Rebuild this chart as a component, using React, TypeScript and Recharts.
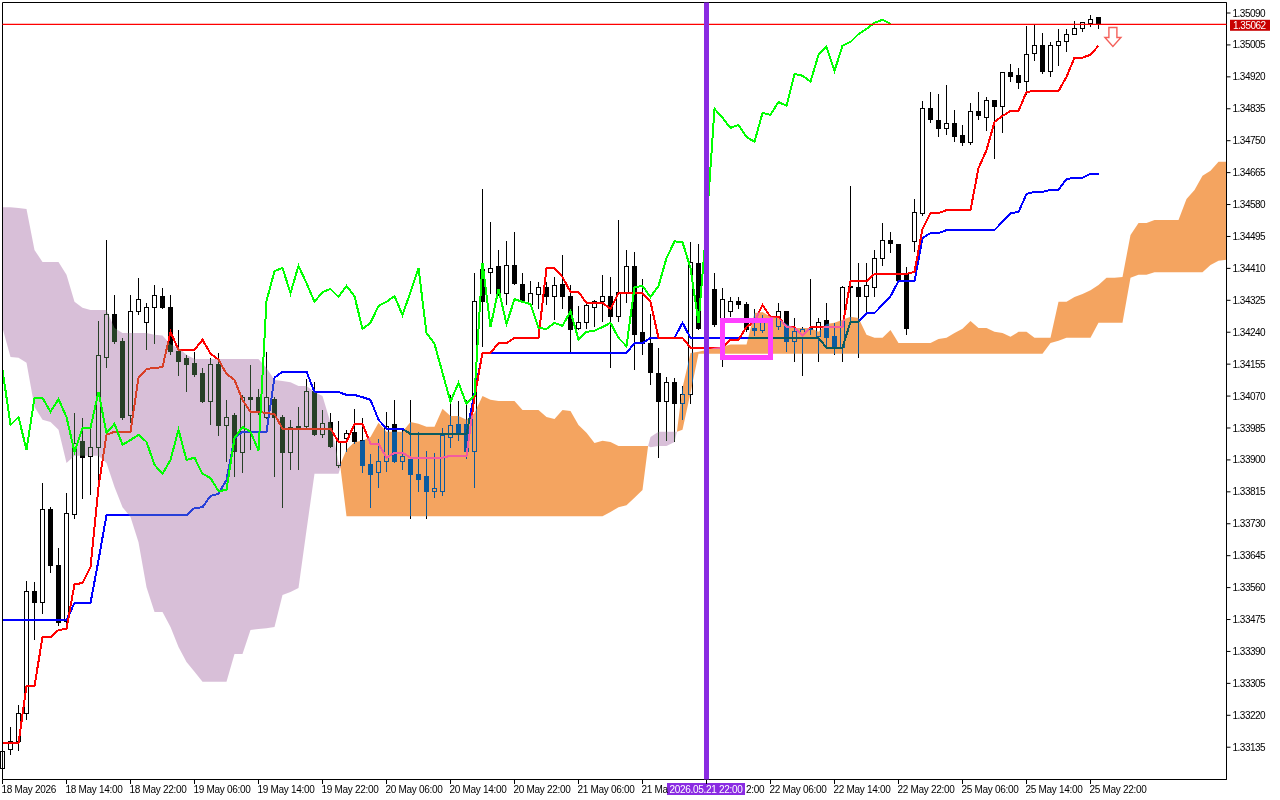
import { ComposedChart, Bar, Line, Area, XAxis, YAxis, CartesianGrid, ReferenceLine, ReferenceArea, ReferenceDot } from 'recharts';

// prices are kept in points (1.35062 -> 135062)
const opens = [133077,133128,133149,133226,133550,133519,133769,133620,133469,133755,133948,133908,133932,134174,134288,134216,134017,134296,134265,134305,134336,134307,134188,134169,134156,134129,134055,134153,133991,134017,133919,134067,134067,134014,134062,134012,133919,133985,133988,134081,133967,133999,133884,133958,133972,133951,133889,133866,133897,133993,133897,133900,133860,133855,133815,133817,133961,133993,133993,133922,134406,134400,134414,134344,134419,134368,134313,134341,134358,134334,134368,134336,134249,134265,134307,134321,134336,134283,134344,134414,134238,134211,134129,134055,134105,134049,134075,134424,134251,134355,134251,134294,134321,134315,134249,134244,134273,134254,134296,134214,134235,134246,134228,134270,134228,134199,134363,134360,134334,134360,134437,134485,134474,134393,134482,134555,134835,134803,134782,134795,134763,134744,134827,134813,134856,134840,134931,134923,134907,134981,135003,134933,135003,135013,135034,135050,135061,135077];
const highs = [133123,133189,133250,133580,133577,133839,133777,133667,133812,134025,134012,133988,134270,134488,134341,134225,134341,134387,134318,134368,134360,134341,134246,134180,134188,134147,134174,134186,134060,134025,134075,134153,134089,134190,134070,134022,134007,134041,134116,134110,134033,134025,134004,133980,134036,134014,133916,133958,134028,134060,133980,134060,133975,133925,133919,133985,134073,134057,134060,134398,134622,134536,134459,134485,134507,134398,134379,134376,134374,134389,134448,134368,134310,134323,134328,134393,134389,134541,134459,134454,134384,134291,134200,134122,134119,134099,134482,134477,134366,134400,134358,134336,134334,134321,134302,134286,134281,134318,134299,134278,134254,134382,134278,134318,134265,134365,134630,134427,134427,134459,134531,134507,134477,134414,134595,134856,134882,134875,134899,134832,134792,134851,134882,134867,134861,134933,134955,134944,135056,135061,135037,135013,135050,135048,135069,135066,135085,135080];
const lows = [133075,133115,133125,133210,133423,133492,133599,133458,133466,133745,133796,133807,133815,134147,134209,134007,133999,134286,134193,134211,134303,134180,134124,134083,134122,134052,133993,133964,133895,133855,133866,133927,134020,134009,133855,133774,133874,133874,133985,133964,133961,133932,133881,133922,133945,133866,133774,133826,133868,133892,133874,133745,133817,133745,133799,133804,133934,133953,133903,133826,134203,134344,134339,134315,134368,134321,134310,134302,134315,134275,134302,134185,134246,134249,134254,134268,134147,134268,134318,134142,134182,134102,133906,133953,133948,134007,134049,134246,134166,134254,134150,134281,134302,134243,134231,134238,134251,134246,134188,134163,134124,134233,134161,134199,134180,134161,134265,134172,134291,134334,134419,134451,134376,134235,134456,134550,134798,134760,134766,134747,134736,134739,134806,134776,134702,134773,134907,134888,134872,134963,134930,134920,134949,134987,135032,135040,135053,135050];
const closes = [133123,133149,133226,133550,133519,133769,133620,133466,133758,133945,133906,133934,134177,134288,134214,134014,134294,134328,134305,134339,134305,134188,134163,134153,134127,134055,134153,133991,134014,133922,134067,134062,134028,134065,134012,133919,133985,133988,134081,133967,133996,133937,133948,133969,133948,133884,133860,133897,133988,133897,133908,133860,133849,133815,133823,133964,133991,133969,133922,134323,134321,134411,134344,134419,134371,134323,134344,134358,134334,134365,134334,134246,134265,134310,134321,134336,134283,134347,134414,134235,134211,134132,134055,134105,134049,134075,134427,134251,134355,134260,134328,134321,134315,134246,134244,134265,134257,134296,134216,134241,134246,134251,134265,134225,134199,134360,134360,134334,134365,134437,134485,134477,134379,134251,134560,134835,134806,134782,134795,134760,134744,134827,134816,134856,134840,134931,134920,134904,134979,135003,134933,135003,135013,135034,135050,135064,135074,135062];

const tenkan = [133146,133146,133146,133298,133298,133428,133428,133447,133450,133569,133572,133614,133828,133967,133975,133975,133975,134119,134142,134145,134147,134241,134193,134193,134193,134220,134183,134167,134129,134113,134060,134028,134028,134025,134022,133983,133983,133983,133983,133983,133983,133983,133948,133948,133996,133996,133943,133943,133906,133919,133919,133906,133906,133906,133906,133906,133911,133911,133911,134067,134185,134185,134211,134211,134225,134225,134225,134225,134411,134411,134387,134347,134347,134318,134318,134318,134302,134344,134344,134344,134344,134321,134225,134225,134225,134225,134199,134199,134199,134199,134199,134220,134220,134254,134268,134313,134281,134281,134254,134254,134231,134254,134254,134254,134254,134254,134376,134376,134376,134395,134395,134395,134395,134395,134401,134515,134557,134557,134565,134565,134565,134565,134677,134725,134800,134816,134829,134829,134880,134882,134882,134882,134882,134920,134971,134971,134979,135003];
const kijun = [133474,133474,133474,133474,133474,133474,133474,133474,133474,133519,133519,133519,133633,133753,133753,133753,133753,133753,133753,133753,133753,133753,133753,133753,133772,133774,133804,133810,133847,133958,133975,133975,133975,133975,134119,134135,134135,134135,134135,134081,134081,134081,134081,134073,134073,134067,134060,134007,133983,133983,133983,133969,133969,133969,133969,133969,133969,133969,133969,134078,134185,134185,134185,134185,134185,134185,134185,134185,134185,134185,134185,134185,134185,134185,134185,134185,134185,134185,134185,134211,134211,134225,134225,134225,134225,134265,134225,134225,134225,134225,134225,134225,134225,134225,134225,134225,134225,134225,134225,134225,134225,134225,134225,134199,134199,134199,134268,134268,134291,134291,134313,134336,134376,134376,134376,134491,134504,134504,134512,134512,134512,134512,134512,134512,134512,134534,134557,134560,134608,134614,134614,134619,134619,134648,134651,134651,134662,134662];
const chikou = [134140,133993,134014,133927,134065,134065,134028,134062,134014,133922,133985,133985,134081,133972,133996,133940,133953,133967,133948,133887,133863,133900,133980,133900,133906,133863,133852,133817,133820,133958,133988,133975,133925,134323,134403,134411,134344,134417,134371,134321,134347,134355,134334,134363,134336,134249,134265,134310,134321,134336,134286,134347,134411,134238,134209,134132,134055,134105,134049,134073,134424,134254,134355,134262,134328,134321,134315,134251,134249,134265,134257,134296,134220,134241,134244,134254,134265,134225,134203,134360,134363,134334,134363,134437,134482,134480,134411,134265,134523,134835,134811,134784,134792,134760,134747,134824,134819,134853,134843,134928,134923,134907,134979,135000,134936,135003,135013,135034,135048,135064,135072,135061];

const mauveBars = [0,1,2,3,4,5,6,7,8,9,10,11,12,13,14,15,16,17,18,19,20,21,22,23,24,25,26,27,28,29,30,31,32,33,34,35,36,37,38,39,40,41,42,42.3,60,80.7,81,82,83,84,84.3];
const mauveHigh = [134573,134573,134571,134568,134459,134427,134427,134427,134393,134321,134305,134299,134299,134299,134251,134238,134238,134238,134238,134233,134231,134207,134199,134180,134169,134169,134169,134169,134169,134169,134169,134169,134169,134145,134113,134110,134107,134097,134097,134081,134070,133999,133895,133884,null,133937,133961,133975,133975,133975,133975];
const mauveLow = [134251,134174,134172,134159,134041,134007,134001,133980,133892,133911,133911,133911,133911,133892,133828,133774,133748,133681,133561,133495,133495,133455,133402,133362,133336,133309,133309,133309,133309,133383,133383,133447,133450,133452,133455,133540,133548,133559,133713,133863,133863,133863,133863,133884,null,133937,133934,133937,133937,133948,133975];

const orangeBars = [42.2,43,44,45,46,47,48,49,50,51,52,53,54,55,56,57,58,59,60,61,62,63,64,65,66,67,68,69,70,71,72,73,74,75,76,77,78,79,80,80.7,82,84.3,85,86,87,88,89,90,91,92,93,94,95,96,97,98,99,100,101,102,103,104,105,106,107,108,109,110,111,112,113,114,115,116,117,118,119,120,121,122,123,124,125,126,127,128,129,130,131,132,133,134,135,136,137,138,139,140,141,142,143,144,145,146,147,148,149,150,151,152,153];
const orangeHigh = [133887,133927,133948,133951,133961,133999,133975,133975,133975,134001,133996,133988,133988,134036,134017,134017,134007,134025,134070,134060,134057,134057,134057,134033,134033,134033,134014,134009,134033,134030,133993,133972,133945,133951,133948,133937,133937,133937,133937,133937,null,133975,134092,134185,134188,134193,134199,134201,134207,134207,134207,134291,134294,134281,134278,134262,134251,134251,134251,134241,134262,134265,134273,134281,134278,134233,134225,134225,134246,134211,134211,134211,134211,134211,134222,134225,134238,134249,134270,134251,134251,134241,134238,134228,134241,134241,134225,134225,134225,134321,134321,134334,134342,134352,134366,134385,134385,134387,134499,134531,134531,134539,134539,134539,134539,134595,134619,134657,134670,134694,134694];
const orangeLow = [133887,133750,133750,133750,133750,133750,133750,133750,133750,133750,133750,133750,133750,133750,133750,133750,133750,133750,133750,133750,133750,133750,133750,133750,133750,133750,133750,133750,133750,133750,133750,133750,133750,133750,133761,133774,133779,133799,133820,133937,null,133975,133980,134078,134183,134183,134183,134183,134183,134183,134183,134183,134183,134183,134183,134183,134183,134183,134183,134183,134183,134183,134183,134183,134183,134183,134183,134183,134183,134183,134183,134183,134183,134183,134183,134183,134183,134183,134183,134183,134183,134183,134183,134183,134183,134183,134183,134183,134211,134217,134225,134225,134225,134225,134265,134265,134265,134265,134385,134393,134393,134400,134400,134400,134400,134400,134400,134400,134419,134430,134433];

const priceTicks = [135090,135005,134920,134835,134750,134665,134580,134495,134410,134325,134240,134155,134070,133985,133900,133815,133730,133645,133560,133475,133390,133305,133220,133135];
const timeTicks = [0,8,16,24,32,40,48,56,64,72,80,88,96,104,112,120,128,136];
// the two labels beside the purple time tag only show the part it leaves visible
const timeLabels = ['18 May 2026','18 May 14:00','18 May 22:00','19 May 06:00','19 May 14:00','19 May 22:00','20 May 06:00','20 May 14:00','20 May 22:00','21 May 06:00','21 Ma','2:00','22 May 06:00','22 May 14:00','22 May 22:00','25 May 06:00','25 May 14:00','25 May 22:00'];

const lastPrice = 135060;
const FONT = '"Liberation Sans", Arial, sans-serif';

const rows = opens.map((open, i) => ({
  i,
  open,
  close: closes[i],
  range: [lows[i], highs[i]],
  tenkan: tenkan[i],
  kijun: kijun[i],
  chikou: i < chikou.length ? chikou[i] : null,
}));

const mauveRows = mauveBars.map((i, n) => ({
  i,
  band: mauveHigh[n] === null ? null : [mauveLow[n], mauveHigh[n]],
}));
const orangeRows = orangeBars.map((i, n) => ({
  i,
  band: orangeHigh[n] === null ? null : [orangeLow[n], orangeHigh[n]],
}));

function Candle(props: any) {
  const { x, y, width, height, payload } = props;
  const [low, high] = payload.range;
  const perPoint = height / (high - low);
  const yOf = (p: number) => Math.floor(y + (high - p) * perPoint) + 0.5;
  const cx = Math.floor(x + width / 2) + 0.5;
  const up = payload.close >= payload.open;
  const top = yOf(Math.max(payload.open, payload.close));
  const bottom = yOf(Math.min(payload.open, payload.close));
  return (
    <g shapeRendering="crispEdges">
      <line x1={cx} x2={cx} y1={yOf(high)} y2={yOf(low)} stroke="#000" />
      <rect x={cx - 2} y={top} width={4} height={Math.max(bottom - top, 1)} fill={up ? '#fff' : '#000'} stroke="#000" />
    </g>
  );
}

function TimeTick(props: any) {
  const { x, y, payload } = props;
  const label = timeLabels[timeTicks.indexOf(payload.value)];
  const textX = payload.value === 88 ? x + 39.5 : x - 1;
  return (
    <g>
      <line x1={x} x2={x} y1={y} y2={y + 4} stroke="#000" shapeRendering="crispEdges" />
      <text x={textX} y={y + 13} fontSize={10} letterSpacing={-0.3} fontFamily={FONT} fill="#000">{label}</text>
    </g>
  );
}

function PriceTag(props: any) {
  const y = props.viewBox.y;
  return (
    <g>
      <rect x={1230} y={y - 4.5} width={40} height={11} fill="#c80000" />
      <text x={1233} y={y + 4.5} fontSize={10} letterSpacing={-0.5} fontFamily={FONT} fill="#fff">1.35062</text>
    </g>
  );
}

function TimeTag(props: any) {
  const x = props.viewBox.x;
  return (
    <g>
      <rect x={x - 39.5} y={783} width={78} height={12} fill="#8a2be2" />
      <text x={x - 37} y={793} fontSize={10} letterSpacing={-0.3} fontFamily={FONT} fill="#fff">2026.05.21 22:00</text>
    </g>
  );
}

function DownArrow(props: any) {
  const { cx, cy } = props;
  const d = `M${cx - 4} ${cy - 9.5} h8 v10 h4 l-8 9 l-8 -9 h4 z`;
  return <path d={d} fill="#fff" stroke="#f4605a" strokeWidth={1.4} />;
}

export default function App() {
  return (
    <div style={{ position: 'absolute', left: 0, top: 0, width: 1280, height: 800, background: '#fff' }}>
      <style>{'.xor-cloud path { mix-blend-mode: difference; }'}</style>
      <ComposedChart width={1280} height={800} data={rows} margin={{ top: 2.5, right: 0, bottom: 0, left: 2.5 }}>
        <CartesianGrid horizontal={false} vertical={false} fill="#fff" />
        <XAxis
          dataKey="i"
          type="number"
          domain={[0, 153]}
          ticks={timeTicks}
          interval={0}
          height={20.5}
          tickSize={0}
          tickMargin={0}
          stroke="#000"
          tick={<TimeTick />}
        />
        <YAxis
          orientation="right"
          domain={[133049, 135118]}
          ticks={priceTicks}
          interval={0}
          width={53.5}
          tickSize={4}
          tickMargin={2}
          stroke="#000"
          tick={{ fill: '#000', fontSize: 10, letterSpacing: -0.5, fontFamily: FONT }}
          tickFormatter={(v: number) => (v / 100000).toFixed(5)}
        />
        <Bar dataKey="range" barSize={5} shape={<Candle />} isAnimationActive={false} zIndex={10} />
        <Line dataKey="kijun" stroke="#0000ff" strokeWidth={2} shapeRendering="crispEdges" dot={false} isAnimationActive={false} zIndex={20} />
        <Line dataKey="tenkan" stroke="#ff0000" strokeWidth={2} shapeRendering="crispEdges" dot={false} isAnimationActive={false} zIndex={21} />
        <Area className="xor-cloud" data={mauveRows} dataKey="band" stroke="none" fill="rgb(39,64,39)" fillOpacity={1} dot={false} activeDot={false} isAnimationActive={false} zIndex={30} />
        <Area className="xor-cloud" data={orangeRows} dataKey="band" stroke="none" fill="rgb(11,91,159)" fillOpacity={1} dot={false} activeDot={false} isAnimationActive={false} zIndex={31} />
        <Line dataKey="chikou" stroke="#00ff00" strokeWidth={2} shapeRendering="crispEdges" dot={false} isAnimationActive={false} zIndex={40} />
        <ReferenceArea x1={0} x2={153} y1={133049} y2={135118} fill="none" stroke="#000" zIndex={600} />
        <ReferenceLine y={lastPrice} stroke="#ff0000" strokeOpacity={1} strokeWidth={1.3} label={<PriceTag />} zIndex={610} />
        <ReferenceLine x={88} stroke="#8a2be2" strokeWidth={5} label={<TimeTag />} zIndex={610} />
        <ReferenceArea x1={90} x2={96} y1={134173} y2={134271} fill="none" stroke="#ff40ff" strokeWidth={5} zIndex={620} />
        <ReferenceDot x={138.8} y={135026} shape={<DownArrow />} zIndex={620} />
      </ComposedChart>
    </div>
  );
}
